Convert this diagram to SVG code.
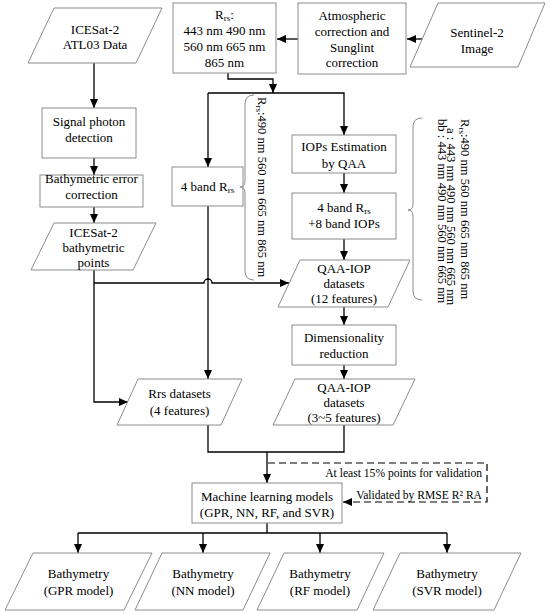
<svg xmlns="http://www.w3.org/2000/svg" width="550" height="613" viewBox="0 0 550 613" font-family="'Liberation Serif', 'DejaVu Serif', serif">
<defs>
<style>
.box{fill:#fff;stroke:#8c8c8c;stroke-width:1}
.ln{fill:none;stroke:#000;stroke-width:1.3}
.dash{fill:none;stroke:#000;stroke-width:1.2;stroke-dasharray:7,4}
.brace{fill:none;stroke:#8c8c8c;stroke-width:1}
text{font-family:'Liberation Serif','DejaVu Serif',serif;font-size:13px;fill:#000;text-anchor:middle}
.rot{font-size:12.6px;text-anchor:start}
.note{font-size:11.6px;text-anchor:end}
.sub{font-size:9px}
</style>
<marker id="ah" markerWidth="10" markerHeight="8" refX="9" refY="4" orient="auto" markerUnits="userSpaceOnUse">
<path d="M0,0 L9,4 L0,8 Z" fill="#000"/>
</marker>
</defs>
<rect width="550" height="613" fill="#fff"/>

<g id="connectors">
<path class="ln" d="M94,63 V108" marker-end="url(#ah)"/>
<path class="ln" d="M94,158 V175" marker-end="url(#ah)"/>
<path class="ln" d="M94,207 V223" marker-end="url(#ah)"/>
<path class="ln" d="M94,270 V402 H128" marker-end="url(#ah)"/>
<path class="ln" d="M94,283 H204 A4,4 0 0 1 212,283 H289" marker-end="url(#ah)"/>
<path class="ln" d="M422,39 H407" marker-end="url(#ah)"/>
<path class="ln" d="M298,39 H277" marker-end="url(#ah)"/>
<path class="ln" d="M228,73 V79 H273 V93" marker-end="url(#ah)"/>
<path class="ln" d="M208,93 H344 V135" marker-end="url(#ah)"/>
<path class="ln" d="M208,93 V167" marker-end="url(#ah)"/>
<path class="ln" d="M344,173 V193" marker-end="url(#ah)"/>
<path class="ln" d="M344,239 V260" marker-end="url(#ah)"/>
<path class="ln" d="M344,307 V325" marker-end="url(#ah)"/>
<path class="ln" d="M344,365 V379" marker-end="url(#ah)"/>
<path class="ln" d="M208,206 V379" marker-end="url(#ah)"/>
<path class="ln" d="M208,425 V452 H344 V425"/>
<path class="ln" d="M267,452 V483" marker-end="url(#ah)"/>
<path class="ln" d="M267,523 V533 M78,533 H447"/>
<path class="ln" d="M78,533 V553" marker-end="url(#ah)"/>
<path class="ln" d="M203,533 V553" marker-end="url(#ah)"/>
<path class="ln" d="M320,533 V553" marker-end="url(#ah)"/>
<path class="ln" d="M447,533 V553" marker-end="url(#ah)"/>
<path class="dash" d="M268,463 H487 V502 H343" marker-end="url(#ah)"/>
<text class="note" x="482" y="477">At least 15% points for validation</text>
<text class="note" x="482" y="499">Validated by RMSE R² RA</text>
</g>

<g id="icesat-atl03">
<polygon class="box" points="54,8 162,8 136,63 28,63"/>
<text x="95" y="33.5">ICESat-2</text>
<text x="95" y="49">ATL03 Data</text>
</g>
<g id="signal-photon">
<rect class="box" x="42" y="108" width="94" height="50"/>
<text x="89" y="125.5">Signal photon</text>
<text x="89" y="141.5">detection</text>
</g>
<g id="bathy-error">
<rect class="box" x="40" y="175" width="103" height="32"/>
<text x="91.5" y="182.5">Bathymetric error</text>
<text x="91.5" y="198.5">correction</text>
</g>
<g id="icesat-points">
<polygon class="box" points="54,223 156,223 133,270 31,270"/>
<text x="93.5" y="236.5">ICESat-2</text>
<text x="93.5" y="251.5">bathymetric</text>
<text x="93.5" y="266.5">points</text>
</g>
<g id="rrs-box">
<rect class="box" x="173" y="3" width="103" height="70"/>
<text x="224.5" y="18.5">R<tspan class="sub" dy="2">rs</tspan><tspan dy="-2">:</tspan></text>
<text x="224.5" y="34.5">443 nm 490 nm</text>
<text x="224.5" y="50.5">560 nm 665 nm</text>
<text x="224.5" y="66.5">865 nm</text>
</g>
<g id="atmospheric">
<rect class="box" x="298" y="3" width="108" height="71"/>
<text x="352" y="19.5">Atmospheric</text>
<text x="352" y="35.5">correction and</text>
<text x="352" y="51.5">Sunglint</text>
<text x="352" y="66.5">correction</text>
</g>
<g id="sentinel">
<polygon class="box" points="438,3 545,3 518,67 410,67"/>
<text x="477" y="36.5">Sentinel-2</text>
<text x="477" y="52.5">Image</text>
</g>
<g id="four-band">
<rect class="box" x="172" y="167" width="71" height="39"/>
<text x="207.5" y="190.5">4 band R<tspan class="sub" dy="2">rs</tspan></text>
</g>
<g id="brace-left">
<path class="brace" d="M254,95 Q245,95 245,104 V181 Q245,187 240,187 Q245,187 245,193 V271 Q245,280 254,280"/>
<text class="rot" transform="translate(258,97) rotate(90)">R<tspan class="sub" dy="2">rs</tspan><tspan dy="-2">:490 nm 560 nm 665 nm 865 nm</tspan></text>
</g>
<g id="iops-estimation">
<rect class="box" x="292" y="135" width="104" height="38"/>
<text x="344" y="150.5">IOPs Estimation</text>
<text x="344" y="167.5">by QAA</text>
</g>
<g id="band-iops">
<rect class="box" x="292" y="193" width="104" height="46"/>
<text x="344" y="211.5">4 band R<tspan class="sub" dy="2">rs</tspan></text>
<text x="344" y="227.5">+8 band IOPs</text>
</g>
<g id="brace-right">
<path class="brace" d="M422,118 Q413,118 413,127 V204 Q413,210 408,210 Q413,210 413,216 V291 Q413,300 422,300"/>
<text class="rot" transform="translate(460.5,119) rotate(90)">R<tspan class="sub" dy="2">rs</tspan><tspan dy="-2">:490 nm 560 nm 665 nm 865 nm</tspan></text>
<text class="rot" transform="translate(447,128) rotate(90)">a : 443 nm 490 nm 560 nm 665 nm</text>
<text class="rot" transform="translate(437.5,119) rotate(90)">bb : 443 nm 490 nm 560 nm 665 nm</text>
</g>
<g id="qaa-12">
<polygon class="box" points="300,260 410,260 388,307 278,307"/>
<text x="344" y="272.5">QAA-IOP</text>
<text x="344" y="287.5">datasets</text>
<text x="344" y="302.5">(12 features)</text>
</g>
<g id="dimensionality">
<rect class="box" x="292" y="325" width="104" height="40"/>
<text x="344" y="341.5">Dimensionality</text>
<text x="344" y="357.5">reduction</text>
</g>
<g id="qaa-35">
<polygon class="box" points="295,379 415,379 393,425 273,425"/>
<text x="344" y="391.5">QAA-IOP</text>
<text x="344" y="406.5">datasets</text>
<text x="344" y="422">(3~5 features)</text>
</g>
<g id="rrs-datasets">
<polygon class="box" points="138,379 242,379 221,425 117,425"/>
<text x="179.5" y="397.5">Rrs datasets</text>
<text x="179.5" y="414.5">(4 features)</text>
</g>
<g id="ml-models">
<rect class="box" x="192" y="483" width="150" height="40"/>
<text x="267" y="500.5">Machine learning models</text>
<text x="267" y="516.5">(GPR, NN, RF, and SVR)</text>
</g>
<g id="bathy-gpr">
<polygon class="box" points="33,553 152,553 124,610 5,610"/>
<text x="78.5" y="577.5">Bathymetry</text>
<text x="78.5" y="594.5">(GPR model)</text>
</g>
<g id="bathy-nn">
<polygon class="box" points="162,553 270,553 243,610 135,610"/>
<text x="203" y="577.5">Bathymetry</text>
<text x="203" y="594.5">(NN model)</text>
</g>
<g id="bathy-rf">
<polygon class="box" points="284,553 384,553 357,610 257,610"/>
<text x="320" y="577.5">Bathymetry</text>
<text x="320" y="594.5">(RF model)</text>
</g>
<g id="bathy-svr">
<polygon class="box" points="400,553 521,553 494,610 373,610"/>
<text x="447" y="577.5">Bathymetry</text>
<text x="447" y="594.5">(SVR model)</text>
</g>
</svg>
